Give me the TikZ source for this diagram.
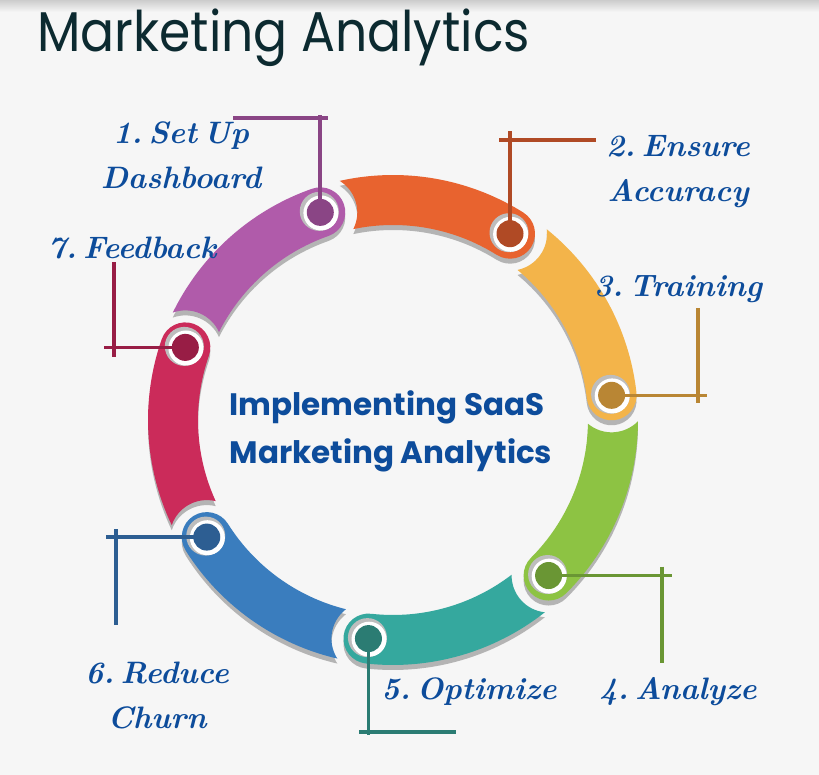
\documentclass[tikz,border=0pt]{standalone}
\usepackage{fontspec}
\usetikzlibrary{calc}
\newfontfamily\titlefont{Poppins}
\frenchspacing
\newcommand{\lblfont}{\fontsize{31}{45}\selectfont\bfseries\itshape\spaceskip=0.2em plus 0.05em\relax}

\definecolor{bgcol}{HTML}{F6F6F6}
\definecolor{shadowgray}{HTML}{B4B4B4}
\definecolor{ringgray}{HTML}{BDBDBD}
\definecolor{labelblue}{HTML}{0D4C9B}
\definecolor{titlecol}{HTML}{0C2A30}
\definecolor{segpurple}{HTML}{B05BAA}\definecolor{dotpurple}{HTML}{8A4585}
\definecolor{segorange}{HTML}{E8632F}\definecolor{dotorange}{HTML}{B04A25}
\definecolor{segyellow}{HTML}{F3B44A}\definecolor{dotyellow}{HTML}{B98634}
\definecolor{seggreen}{HTML}{8DC343}\definecolor{dotgreen}{HTML}{6A9634}
\definecolor{segteal}{HTML}{35A89E}\definecolor{dotteal}{HTML}{2B7C73}
\definecolor{segblue}{HTML}{3A7DBE}\definecolor{dotblue}{HTML}{2D5E92}
\definecolor{segred}{HTML}{CB2B5A}\definecolor{dotred}{HTML}{981D45}

% one ring piece, dot end at angle 0
\newcommand{\segpath}{(44.69:245) arc[start angle=44.69,end angle=0,radius=245]
  arc[start angle=0,end angle=-180,radius=25]
  arc[start angle=0,end angle=43.88,radius=195]
  arc[start angle=-84.74,end angle=0.48,radius=37] -- cycle}

\begin{document}
\begin{tikzpicture}[x=1pt,y=1pt,
    leader/.style={line width=3.6pt},
    lbl/.style={text=labelblue,align=center,font=\lblfont}]
  \fill[bgcol] (0,0) rectangle (819,775);
  \shade[top color=black!20,bottom color=bgcol] (0,763) rectangle (819,775);
  \useasboundingbox (0,0) rectangle (819,775);

  \coordinate (C) at (393,355);

  % shadows
  \foreach \ang in {109.3,57.87,6.44,-44.99,-96.41,-147.84,-199.27}
    \fill[shadowgray,shift={(393,350)},rotate=\ang] \segpath;

  % ring pieces
  \foreach \ang/\seg/\n in {109.3/segpurple/1,57.87/segorange/2,6.44/segyellow/3,
      -44.99/seggreen/4,-96.41/segteal/5,-147.84/segblue/6,-199.27/segred/7}{
    \fill[\seg,shift={(C)},rotate=\ang] \segpath;
    \coordinate (d\n) at ($(C)+(\ang:220)$);
  }

  % dots
  \foreach \n/\dk in {1/dotpurple,2/dotorange,3/dotyellow,4/dotgreen,5/dotteal,6/dotblue,7/dotred}{
    \fill[ringgray] ([shift={(-1,1)}]d\n) circle (19.5);
    \fill[white] ([shift={(0.6,-0.6)}]d\n) circle (17.5);
    \fill[\dk] (d\n) circle (13.5);
  }

  % leader lines
  \coordinate (k1) at (d1 |- 0,657);
  \coordinate (k2) at (d2 |- 0,635);
  \coordinate (k3) at (698,0 |- d3);
  \coordinate (k4) at (662,0 |- d4);
  \coordinate (k5) at (d5 |- 0,43);
  \coordinate (k6) at (116,0 |- d6);
  \coordinate (k7) at (114,0 |- d7);

  \draw[leader,dotpurple] (d1) -- ([yshift=3]k1);
  \draw[leader,dotpurple] ([xshift=-87]k1) -- ([xshift=8]k1);
  \draw[leader,dotorange] (d2) -- ([yshift=9]k2);
  \draw[leader,dotorange] ([xshift=-11]k2) -- ([xshift=86]k2);
  \draw[leader,dotyellow] (d3) -- ([xshift=9]k3);
  \draw[leader,dotyellow] ([yshift=87]k3) -- ([yshift=-8]k3);
  \draw[leader,dotgreen] (d4) -- ([xshift=10]k4);
  \draw[leader,dotgreen] ([yshift=9]k4) -- ([yshift=-87]k4);
  \draw[leader,dotteal] (d5) -- ([yshift=-3]k5);
  \draw[leader,dotteal] ([xshift=-9]k5) -- ([xshift=88]k5);
  \draw[leader,dotblue] (d6) -- ([xshift=-10]k6);
  \draw[leader,dotblue] ([yshift=8]k6) -- ([yshift=-88]k6);
  \draw[leader,dotred] (d7) -- ([xshift=-10]k7);
  \draw[leader,dotred] ([yshift=85]k7) -- ([yshift=-10]k7);

  % texts
  \node[anchor=base west,inner sep=0pt,text=titlecol,font=\titlefont\fontsize{56}{56}\selectfont] (title) at (37,723) {\scalebox{0.9}[1]{Marketing Analytics}};
  \node[text=labelblue,align=left,font=\titlefont\fontsize{31}{48}\selectfont\bfseries] (hub) at (391,344) {Implementing SaaS\\Marketing Analytics};

  \node[lbl] (t1) at (181,620) {1. Set Up\\Dashboard};
  \node[lbl] (t2) at (678,603) {2. Ensure\\Accuracy};
  \node[lbl] (t3) at (678,486) {3. Training};
  \node[lbl] (t4) at (678,83) {4. Analyze};
  \node[lbl] (t5) at (469,83) {5. Optimize};
  \node[lbl] (t6) at (157,80) {6. Reduce\\Churn};
  \node[lbl] (t7) at (132,527) {7. Feedback};
\end{tikzpicture}
\end{document}
